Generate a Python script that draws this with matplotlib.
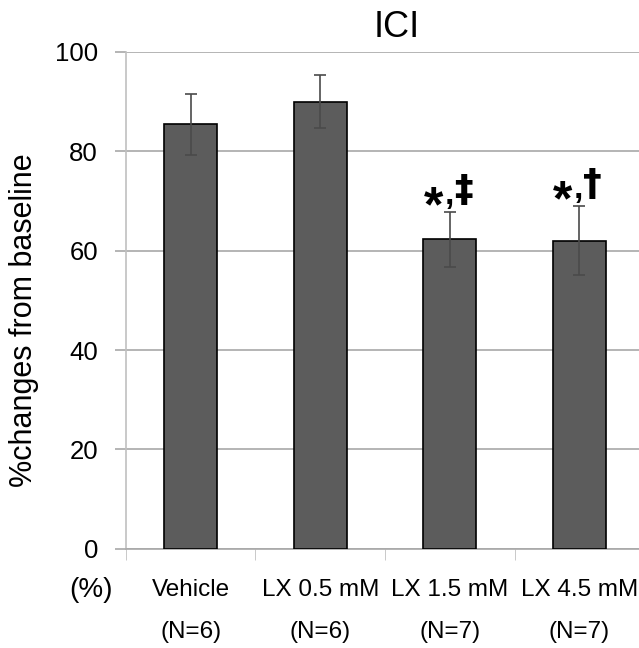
import numpy as np
import matplotlib.pyplot as plt

plt.rcParams['font.family'] = ['Liberation Sans', 'DejaVu Sans']

groups = ["Vehicle", "LX 0.5 mM", "LX 1.5 mM", "LX 4.5 mM"]
counts = ["(N=6)", "(N=6)", "(N=7)", "(N=7)"]
means = [85.4, 90.0, 62.3, 62.0]
errs = [6.1, 5.4, 5.5, 7.0]
marks = ["", "", "*,\u2021", "*,\u2020"]

fig = plt.figure(figsize=(6.39, 6.48), dpi=100)
ax = fig.add_axes([0.197, 0.153, 0.811, 0.767])

x = np.arange(len(groups))
ax.bar(x, means, width=0.41, color="#5c5c5c", edgecolor="black", linewidth=1.2, zorder=3)
ax.errorbar(x, means, yerr=errs, fmt="none", ecolor="#4a4a4a", elinewidth=1.2,
            capsize=4, capthick=1.2, zorder=4)

# significance marks: big asterisk, comma, tall dagger
for xi, m, e, s in zip(x, means, errs, marks):
    if not s:
        continue
    ax.annotate(s[0], (xi, m + e), xytext=(-5, -7), textcoords="offset points",
                ha="right", va="baseline", fontsize=36, fontweight="bold")
    ax.annotate(s[1], (xi, m + e), xytext=(-4, 6), textcoords="offset points",
                ha="left", va="baseline", fontsize=24, fontweight="bold")
    ax.annotate(s[2], (xi, m + e), xytext=(9.5, 8), textcoords="offset points",
                ha="center", va="baseline", fontsize=27, fontweight="bold",
                family="DejaVu Sans")

ax.set_xlim(-0.5, len(groups) - 0.5)
ax.set_ylim(0, 100)
ax.set_yticks([0, 20, 40, 60, 80, 100])
ax.yaxis.grid(True, color="#a8a8a8", linewidth=1.2, zorder=0)
ax.tick_params(axis="y", labelsize=18.5, length=8, width=1.2, color="#a8a8a8", pad=12)

ax.set_xticks(x)
ax.set_xticklabels([g + "\n" + c for g, c in zip(groups, counts)], fontsize=17.5, linespacing=2.15)
ax.tick_params(axis="x", length=0, pad=22)
ax.set_xticks(np.arange(-0.5, len(groups)), minor=True)
ax.tick_params(axis="x", which="minor", length=8, color="#c0c0c0")

for side in ["top", "right"]:
    ax.spines[side].set_visible(False)
ax.spines["left"].set_color("#c0c0c0")
ax.spines["bottom"].set_color("#a8a8a8")
ax.spines["left"].set_linewidth(1.2)
ax.spines["bottom"].set_linewidth(1.2)

fig.text(0.0376, 0.506, "%changes from baseline", fontsize=22, rotation=90,
         ha="center", va="center")
fig.text(0.621, 0.958, "ICI", fontsize=26, ha="center", va="center")
fig.text(0.1424, 0.0895, "(%)", fontsize=20, ha="center", va="center")

fig.savefig("out.png", dpi=100)
